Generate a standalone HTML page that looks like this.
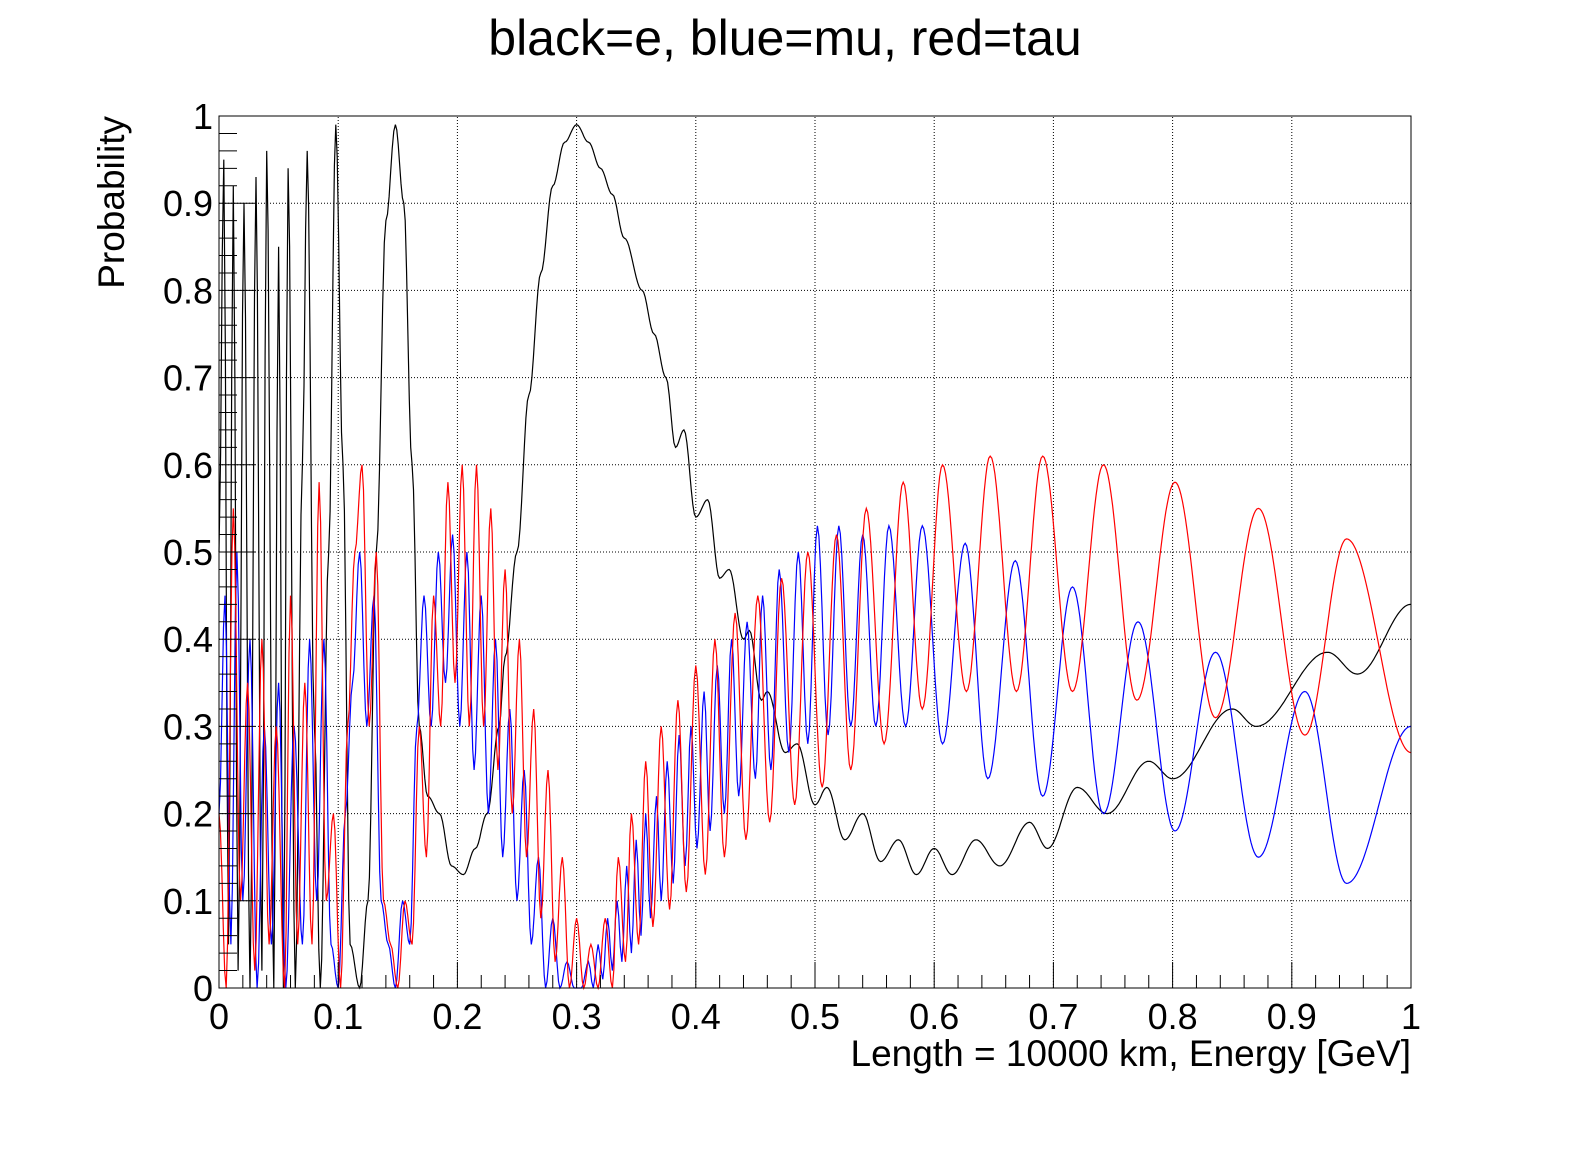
<!DOCTYPE html>
<html><head><meta charset="utf-8"><style>
body{margin:0;background:#fff}
svg{display:block;font-family:"Liberation Sans",Arial,sans-serif}
</style></head><body>
<svg id="chart" width="1596" height="1172" viewBox="0 0 1596 1172" xmlns="http://www.w3.org/2000/svg">
<rect width="1596" height="1172" fill="#fff"/>
<text x="785" y="55" font-size="50" text-anchor="middle">black=e, blue=mu, red=tau</text>
<g id="grid"></g>
<g id="series"></g>
<rect x="219" y="116" width="1192" height="872" fill="none" stroke="#000" stroke-width="1"/>
<g id="axes"></g>
<text x="1411" y="1066" font-size="37" text-anchor="end">Length = 10000 km, Energy [GeV]</text>
<text transform="translate(124,116) rotate(-90)" font-size="37" text-anchor="end">Probability</text>
</svg>
<script>
const xTicks=[0,0.1,0.2,0.3,0.4,0.5,0.6,0.7,0.8,0.9,1];
const xTickLabels=["0","0.1","0.2","0.3","0.4","0.5","0.6","0.7","0.8","0.9","1"];
const yTicks=[0,0.1,0.2,0.3,0.4,0.5,0.6,0.7,0.8,0.9,1];
const yTickLabels=["0","0.1","0.2","0.3","0.4","0.5","0.6","0.7","0.8","0.9","1"];

const eX=[0,0.004,0.008,0.012,0.016,0.021,0.026,0.031,0.036,0.040,0.046,0.050,0.054,0.058,0.064,0.070,0.074,0.080,0.085,0.092,0.098,0.104,0.11,0.118,0.125,0.132,0.14,0.148,0.155,0.162,0.168,0.175,0.185,0.195,0.205,0.215,0.225,0.235,0.24,0.25,0.26,0.27,0.28,0.29,0.3,0.31,0.32,0.33,0.34,0.355,0.365,0.375,0.383,0.39,0.4,0.41,0.42,0.428,0.44,0.445,0.455,0.46,0.475,0.485,0.5,0.51,0.525,0.54,0.555,0.57,0.585,0.6,0.615,0.635,0.655,0.68,0.695,0.72,0.745,0.78,0.8,0.85,0.87,0.93,0.955,1.0];
const eY=[0.5,0.95,0.05,0.92,0.02,0.9,0.0,0.93,0.02,0.96,0.0,0.85,0.0,0.94,0.0,0.6,0.96,0.3,0.0,0.5,0.99,0.6,0.05,0.0,0.1,0.5,0.88,0.99,0.9,0.6,0.3,0.22,0.2,0.14,0.13,0.16,0.2,0.3,0.38,0.5,0.68,0.82,0.92,0.97,0.99,0.97,0.94,0.91,0.86,0.8,0.75,0.7,0.62,0.64,0.54,0.56,0.47,0.48,0.4,0.41,0.33,0.34,0.27,0.28,0.21,0.23,0.17,0.2,0.145,0.17,0.13,0.16,0.13,0.17,0.14,0.19,0.16,0.23,0.2,0.26,0.24,0.32,0.3,0.385,0.36,0.44];

const muX=[0,0.005,0.01,0.015,0.02,0.026,0.032,0.038,0.044,0.05,0.056,0.063,0.07,0.076,0.082,0.088,0.094,0.1,0.106,0.112,0.118,0.124,0.13,0.136,0.142,0.148,0.154,0.16,0.166,0.172,0.178,0.184,0.19,0.196,0.202,0.208,0.214,0.22,0.226,0.232,0.238,0.244,0.25,0.256,0.262,0.268,0.274,0.28,0.286,0.292,0.298,0.304,0.31,0.314,0.318,0.322,0.326,0.330,0.334,0.338,0.342,0.346,0.35,0.354,0.358,0.362,0.367,0.371,0.376,0.381,0.386,0.391,0.396,0.401,0.407,0.412,0.418,0.424,0.43,0.436,0.443,0.45,0.456,0.463,0.47,0.478,0.486,0.494,0.502,0.511,0.52,0.53,0.54,0.551,0.562,0.576,0.59,0.607,0.626,0.645,0.668,0.691,0.716,0.742,0.771,0.802,0.836,0.872,0.911,0.946,1.0];
const muY=[0.2,0.45,0.05,0.5,0.1,0.4,0.0,0.3,0.05,0.35,0.0,0.3,0.05,0.4,0.1,0.4,0.05,0.0,0.2,0.35,0.5,0.3,0.45,0.1,0.05,0.0,0.1,0.05,0.3,0.45,0.3,0.5,0.35,0.52,0.3,0.5,0.25,0.45,0.2,0.4,0.15,0.32,0.1,0.25,0.05,0.15,0.0,0.08,0.0,0.03,0.0,0.0,0.03,0.0,0.05,0.01,0.08,0.02,0.1,0.03,0.14,0.04,0.17,0.06,0.2,0.08,0.22,0.1,0.26,0.12,0.29,0.14,0.3,0.16,0.34,0.18,0.37,0.2,0.4,0.22,0.42,0.24,0.45,0.25,0.48,0.27,0.5,0.28,0.53,0.29,0.53,0.3,0.52,0.3,0.53,0.3,0.53,0.28,0.51,0.24,0.49,0.22,0.46,0.2,0.42,0.18,0.385,0.15,0.34,0.12,0.3];

const tauX=[0,0.006,0.012,0.018,0.024,0.03,0.036,0.042,0.048,0.055,0.06,0.066,0.072,0.078,0.084,0.09,0.096,0.102,0.108,0.114,0.12,0.126,0.132,0.138,0.144,0.15,0.156,0.162,0.168,0.174,0.18,0.186,0.192,0.198,0.204,0.21,0.216,0.222,0.228,0.234,0.24,0.246,0.252,0.258,0.264,0.27,0.276,0.282,0.288,0.294,0.3,0.306,0.312,0.318,0.324,0.33,0.335,0.341,0.346,0.352,0.358,0.364,0.371,0.378,0.385,0.392,0.4,0.408,0.416,0.424,0.433,0.442,0.452,0.462,0.472,0.483,0.494,0.506,0.518,0.53,0.543,0.558,0.574,0.59,0.607,0.627,0.647,0.669,0.691,0.716,0.742,0.77,0.802,0.836,0.872,0.911,0.946,1.0];
const tauY=[0.2,0.0,0.55,0.1,0.35,0.02,0.4,0.05,0.3,0.0,0.45,0.05,0.35,0.05,0.58,0.1,0.2,0.0,0.3,0.5,0.6,0.3,0.5,0.1,0.05,0.0,0.1,0.05,0.3,0.15,0.45,0.3,0.58,0.35,0.6,0.3,0.6,0.3,0.55,0.25,0.48,0.2,0.4,0.15,0.32,0.08,0.25,0.03,0.15,0.0,0.08,0.0,0.05,0.0,0.08,0.0,0.15,0.03,0.2,0.05,0.26,0.07,0.3,0.09,0.33,0.11,0.37,0.13,0.4,0.15,0.43,0.17,0.45,0.19,0.47,0.21,0.5,0.23,0.52,0.25,0.55,0.28,0.58,0.32,0.6,0.34,0.61,0.34,0.61,0.34,0.6,0.33,0.58,0.31,0.55,0.29,0.515,0.27];

const NS="http://www.w3.org/2000/svg";
const X0=219,X1=1411,Y0=988,Y1=116;
function sx(v){return X0+(X1-X0)*v;}
function sy(v){return Y0-(Y0-Y1)*v;}
function mk(tag,attrs,parent){const e=document.createElementNS(NS,tag);for(const k in attrs)e.setAttribute(k,attrs[k]);parent.appendChild(e);return e;}

const grid=document.getElementById('grid');
const axes=document.getElementById('axes');
xTicks.forEach((t,i)=>{
  if(i>0&&i<xTicks.length-1){
    const g=mk('line',{x1:sx(t),x2:sx(t),y1:Y0,y2:Y1,stroke:'#000','stroke-dasharray':'1,2','stroke-width':1},grid);
    
    
  }
  const tk=mk('line',{x1:sx(t),x2:sx(t),y1:Y0,y2:Y0-26,stroke:'#000'},axes);
  
  
  const lb=mk('text',{x:sx(t),y:1029,'font-size':36,'text-anchor':'middle'},axes);
  lb.textContent=xTickLabels[i];
  
  
});
for(let k=1;k<50;k++){if(k%5===0)continue;const v=k/50;
  const m=mk('line',{x1:sx(v),x2:sx(v),y1:Y0,y2:Y0-13,stroke:'#000'},axes);
  
  
}
yTicks.forEach((t,i)=>{
  if(i>0&&i<yTicks.length-1){
    const g=mk('line',{x1:X0,x2:X1,y1:sy(t),y2:sy(t),stroke:'#000','stroke-dasharray':'1,2','stroke-width':1},grid);
    
    
  }
  const tk=mk('line',{x1:X0,x2:X0+36,y1:sy(t),y2:sy(t),stroke:'#000'},axes);
  
  
  const lb=mk('text',{x:213,y:sy(t)+13,'font-size':36,'text-anchor':'end'},axes);
  lb.textContent=yTickLabels[i];
  
  
});
for(let k=1;k<50;k++){if(k%5===0)continue;const v=k/50;
  const m=mk('line',{x1:X0,x2:X0+18,y1:sy(v),y2:sy(v),stroke:'#000'},axes);
  
  
}

const series=document.getElementById('series');
function curve(xs,ys,color,name){
  let d='M'+sx(xs[0]).toFixed(1)+','+sy(ys[0]).toFixed(1);
  for(let i=0;i<xs.length-1;i++){
    const n=Math.max(2,Math.round((sx(xs[i+1])-sx(xs[i]))/1.5));
    for(let j=1;j<=n;j++){const t=j/n;const f=(1-Math.cos(Math.PI*t))/2;
      d+='L'+sx(xs[i]+(xs[i+1]-xs[i])*t).toFixed(1)+','+sy(ys[i]+(ys[i+1]-ys[i])*f).toFixed(1);}
  }
  const p=mk('path',{d:d,fill:'none',stroke:color,'stroke-width':1.2},series);
  
  
}
curve(eX,eY,'#000','electron-probability-line');
curve(muX,muY,'#0000ff','muon-probability-line');
curve(tauX,tauY,'#ff0000','tau-probability-line');
</script>
</body></html>
